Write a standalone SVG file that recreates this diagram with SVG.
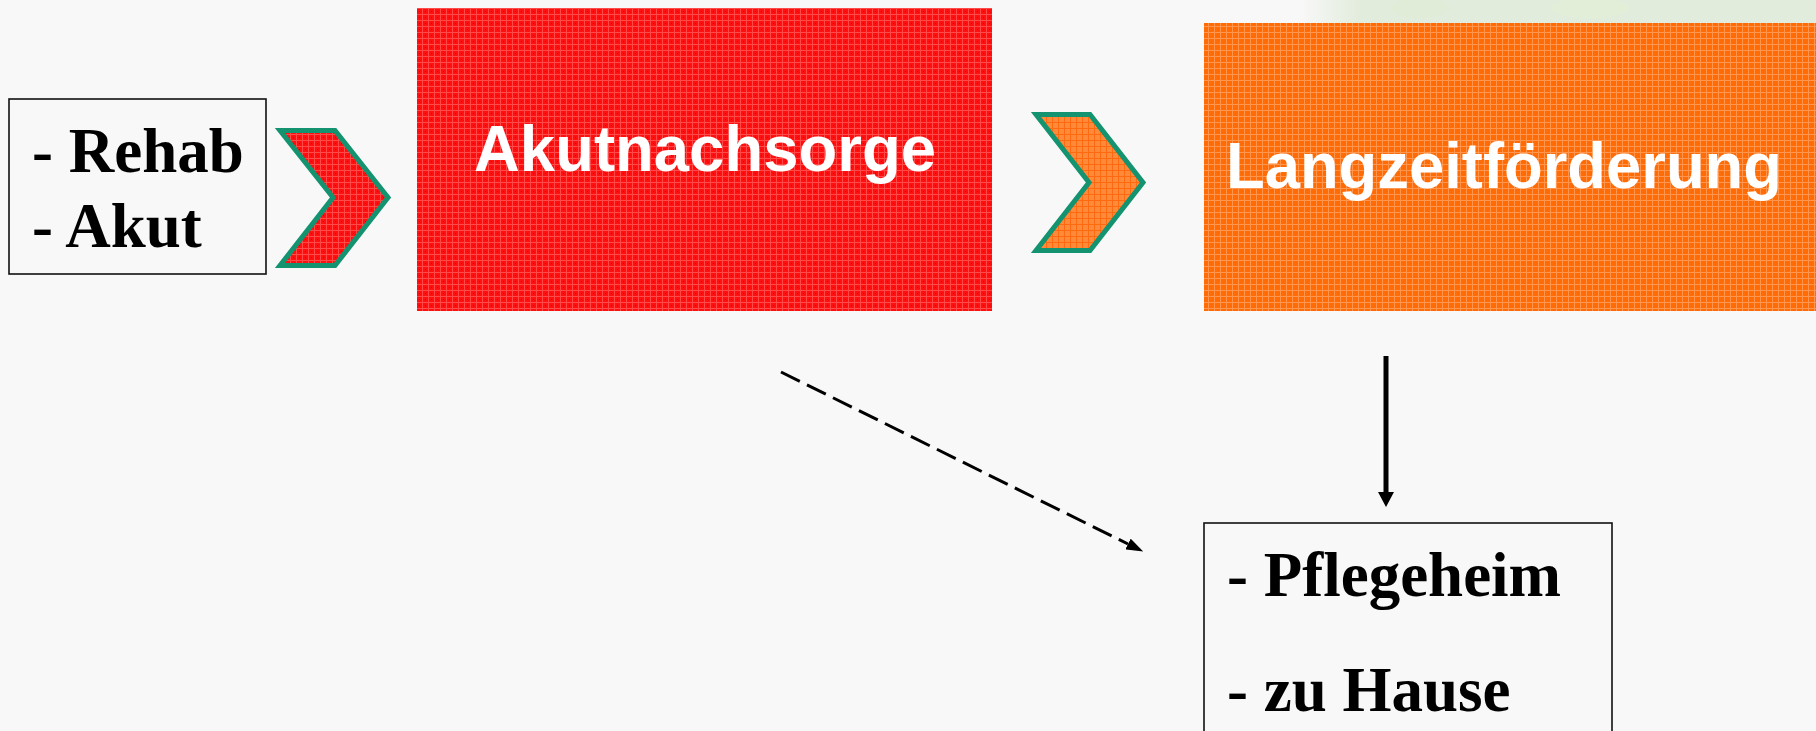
<svg xmlns="http://www.w3.org/2000/svg" width="1816" height="731" viewBox="0 0 1816 731">
<style>
.serif{font-family:"Liberation Serif","Times New Roman",serif;font-weight:bold;font-size:63px;fill:#000}
.sans{font-family:"Liberation Sans",Arial,sans-serif;font-weight:bold;font-size:64px;fill:#fff}
.box{fill:#f8f8f8;stroke:#111;stroke-width:1.6}
.chev{stroke:#13936f;stroke-width:5;stroke-linejoin:miter}
.conn{fill:none;stroke:#000}
</style>
<defs>
<pattern id="redTex" width="6" height="6" patternUnits="userSpaceOnUse">
<rect width="6" height="6" fill="#ff1010"/>
<rect x="0" y="2" width="6" height="1" fill="#ff4a4a"/>
<rect x="2" y="0" width="1" height="6" fill="#ff4a4a"/>
<rect x="5" y="5" width="1" height="1" fill="#e00000"/>
</pattern>
<pattern id="orangeTex" width="6" height="6" patternUnits="userSpaceOnUse">
<rect width="6" height="6" fill="#ff6c05"/>
<rect x="0" y="2" width="6" height="1" fill="#ff9650"/>
<rect x="2" y="0" width="1" height="6" fill="#ff9650"/>
</pattern>
<pattern id="orangeTex2" width="6" height="6" patternUnits="userSpaceOnUse">
<rect width="6" height="6" fill="#ff8a3a"/>
<rect x="0" y="2" width="6" height="1" fill="#ff6a10"/>
<rect x="2" y="0" width="1" height="6" fill="#ff6a10"/>
</pattern>
<linearGradient id="bandGrad" x1="1300" y1="0" x2="1360" y2="0" gradientUnits="userSpaceOnUse">
<stop offset="0" stop-color="#e2ecdc" stop-opacity="0"/>
<stop offset="1" stop-color="#e2ecdc" stop-opacity="1"/>
</linearGradient>
<marker id="arrowSmall" viewBox="0 0 17 12" refX="0" refY="6" markerWidth="17" markerHeight="12" markerUnits="userSpaceOnUse" orient="auto">
<path d="M0,0 L17,6 L0,12 z" fill="#000"/>
</marker>
<marker id="arrowBig" viewBox="0 0 15 16" refX="0" refY="8" markerWidth="15" markerHeight="16" markerUnits="userSpaceOnUse" orient="auto">
<path d="M0,0 L15,8 L0,16 z" fill="#000"/>
</marker>
</defs>
<rect width="1816" height="731" fill="#f8f8f8"/>
<rect x="1300" y="0" width="516" height="24" fill="url(#bandGrad)"/>
<ellipse cx="1420" cy="8" rx="30" ry="10" fill="#e0ecd4" opacity="0.7"/>
<ellipse cx="1590" cy="8" rx="40" ry="10" fill="#e4f0d6" opacity="0.7"/>

<g id="connectors">
<line class="conn" x1="781" y1="372" x2="1128" y2="544" stroke-width="3" stroke-dasharray="21 8" marker-end="url(#arrowSmall)"/>
<line class="conn" x1="1386" y1="356" x2="1386" y2="492" stroke-width="5" marker-end="url(#arrowBig)"/>
</g>

<g id="node-rehab">
<rect class="box" x="9" y="99" width="257" height="175"/>
<text class="serif" x="32" y="172">- Rehab</text>
<text class="serif" x="32" y="247">- Akut</text>
</g>

<g id="chevron-1">
<polygon class="chev" fill="url(#redTex)" points="280,130.5 335,130.5 388,197.5 335,265.5 280,265.5 333,197.5"/>
</g>

<g id="node-akutnachsorge">
<rect x="417" y="8" width="575" height="303" fill="url(#redTex)"/>
<text class="sans" x="705" y="171" text-anchor="middle" textLength="462" lengthAdjust="spacingAndGlyphs">Akutnachsorge</text>
</g>

<g id="chevron-2">
<polygon class="chev" fill="url(#orangeTex2)" points="1036,114.5 1090,114.5 1143,182.5 1090,250.5 1036,250.5 1089,182.5"/>
</g>

<g id="node-langzeit">
<rect x="1204" y="23" width="612" height="288" fill="url(#orangeTex)"/>
<text class="sans" x="1226" y="188" textLength="556" lengthAdjust="spacingAndGlyphs">Langzeitförderung</text>
</g>

<g id="node-pflege">
<rect class="box" x="1204" y="523" width="408" height="230"/>
<text class="serif" x="1227" y="596">- Pflegeheim</text>
<text class="serif" x="1227" y="711">- zu Hause</text>
</g>
</svg>
